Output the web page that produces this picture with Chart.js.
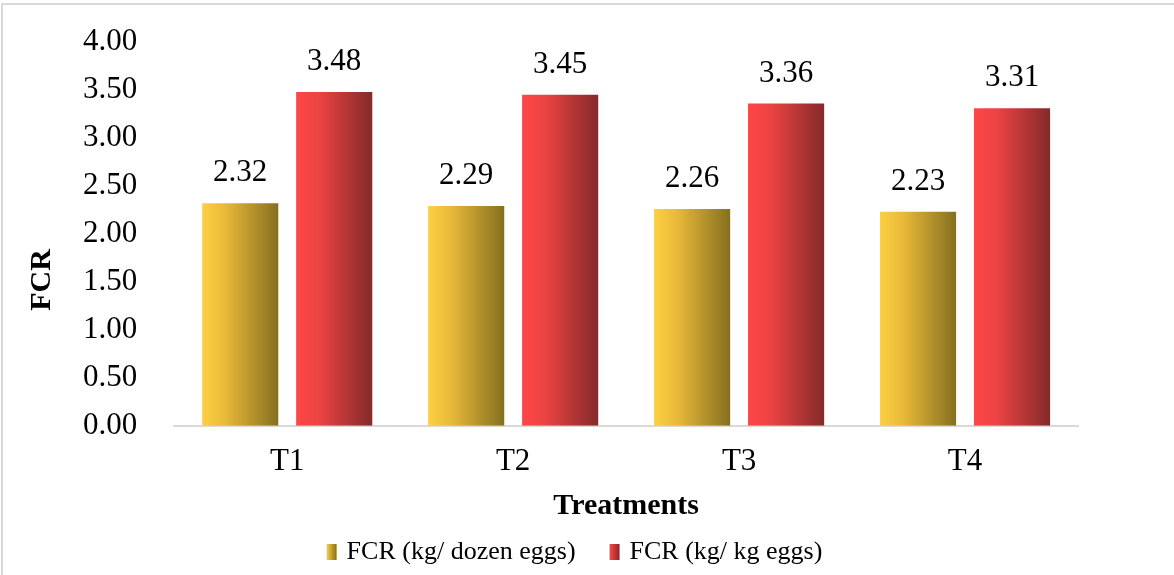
<!DOCTYPE html>
<html>
<head>
<meta charset="utf-8">
<script src="https://cdn.jsdelivr.net/npm/chart.js@4/dist/chart.umd.min.js"></script>
<style>
  html, body { margin: 0; padding: 0; background: #fff; overflow: hidden; }
  #frame { position: absolute; left: 1px; top: 3px; width: 1200px; height: 600px;
           border-left: 2px solid #d9d9d9; border-top: 2px solid #d9d9d9; }
  #wrap { position: absolute; left: 0; top: 0; width: 1174px; height: 575px; }
</style>
</head>
<body>
<div id="frame"></div>
<div id="wrap"><canvas id="myChart" width="1174" height="575"></canvas></div>
<script>
const treatments = ['T1', 'T2', 'T3', 'T4'];
const fcrDozen = [2.32, 2.29, 2.26, 2.23];
const fcrKg = [3.48, 3.45, 3.36, 3.31];
const seriesNames = ['FCR (kg/ dozen eggs)', 'FCR (kg/ kg eggs)'];
const yTicks = [0, 0.5, 1, 1.5, 2, 2.5, 3, 3.5, 4];

const serif = "'Liberation Serif', 'Times New Roman', serif";
const catPct = 0.832;
const barPct = 0.81;

// left -> right colours for each series
const gradStops = [
    ['#fdd042', '#e9b93a', '#85701f'],
    ['#ff4646', '#ec4343', '#832a2a']
];

function barGradient(context) {
    const chart = context.chart;
    const xs = chart.scales.x;
    if (!xs || context.dataIndex === undefined) return gradStops[context.datasetIndex][0];
    const catW = (xs.right - xs.left) / treatments.length;
    const slot = catW * catPct / 2;
    const w = slot * barPct;
    const cx = xs.getPixelForValue(context.dataIndex) + (context.datasetIndex === 0 ? -slot / 2 : slot / 2);
    const g = chart.ctx.createLinearGradient(cx - w / 2, 0, cx + w / 2, 0);
    const s = gradStops[context.datasetIndex];
    g.addColorStop(0, s[0]);
    g.addColorStop(0.3, s[1]);
    g.addColorStop(1, s[2]);
    return g;
}

// legend swatch: image is centred on the legend box, swatch sits near its right end
const boxW = 32;
function legendSwatch(i) {
    const c = document.createElement('canvas');
    c.width = boxW + 18;
    c.height = 16;
    const x = c.getContext('2d');
    const left = c.width - 16;
    const g = x.createLinearGradient(left, 0, left + 10, 0);
    g.addColorStop(0, gradStops[i][0]);
    g.addColorStop(1, gradStops[i][2]);
    x.fillStyle = g;
    x.fillRect(left, 0, 10, 16);
    return c;
}

const valueLabels = {
    id: 'valueLabels',
    afterDatasetsDraw(chart) {
        const ctx = chart.ctx;
        ctx.save();
        ctx.font = '31px ' + serif;
        ctx.fillStyle = '#000';
        ctx.textAlign = 'center';
        ctx.textBaseline = 'middle';
        chart.data.datasets.forEach((ds, di) => {
            chart.getDatasetMeta(di).data.forEach((bar, i) => {
                ctx.fillText(ds.data[i].toFixed(2), bar.x, bar.y - 30);
            });
        });
        ctx.restore();
    }
};

const yTitle = {
    id: 'yTitle',
    afterDraw(chart) {
        const ctx = chart.ctx;
        ctx.save();
        ctx.translate(42, 280);
        ctx.rotate(-Math.PI / 2);
        ctx.font = 'bold 30px ' + serif;
        ctx.fillStyle = '#000';
        ctx.textAlign = 'center';
        ctx.textBaseline = 'middle';
        ctx.fillText('FCR', 0, 0);
        ctx.restore();
    }
};

const ctx = document.getElementById('myChart').getContext('2d');
const myChart = new Chart(ctx, {
    type: 'bar',
    data: {
        labels: treatments,
        datasets: [
            { label: seriesNames[0], data: fcrDozen, backgroundColor: barGradient,
              categoryPercentage: catPct, barPercentage: barPct },
            { label: seriesNames[1], data: fcrKg, backgroundColor: barGradient,
              categoryPercentage: catPct, barPercentage: barPct }
        ]
    },
    options: {
        responsive: false,
        animation: false,
        layout: { padding: { left: 46, right: 96, top: 42, bottom: 0 } },
        plugins: {
            legend: {
                position: 'bottom',
                labels: {
                    font: { family: serif, size: 26 },
                    color: '#000',
                    usePointStyle: true,
                    pointStyleWidth: boxW,
                    padding: 9,
                    generateLabels(chart) {
                        return chart.data.datasets.map((ds, i) => ({
                            text: ds.label,
                            pointStyle: legendSwatch(i),
                            datasetIndex: i,
                            fontColor: '#000',
                            lineWidth: 0
                        }));
                    }
                }
            },
            tooltip: { enabled: false }
        },
        scales: {
            x: {
                grid: { display: false, drawTicks: false },
                border: { display: true, color: '#d9d9d9', width: 2 },
                ticks: { font: { family: serif, size: 31 }, color: '#000', padding: 17 },
                title: { display: true, text: 'Treatments', color: '#000',
                         font: { family: serif, size: 30, weight: 'bold' }, padding: { top: -9, bottom: 6 } }
            },
            y: {
                min: 0,
                max: 4,
                afterBuildTicks(scale) {
                    scale.ticks = yTicks.map(v => ({ value: v }));
                },
                afterFit(scale) {
                    scale.paddingTop = 0;
                    scale.paddingBottom = 0;
                },
                grid: { display: false, drawTicks: false },
                border: { display: false },
                ticks: { font: { family: serif, size: 31 }, color: '#000', padding: 37,
                         callback: v => Number(v).toFixed(2) }
            }
        }
    },
    plugins: [valueLabels, yTitle]
});
</script>
</body>
</html>
